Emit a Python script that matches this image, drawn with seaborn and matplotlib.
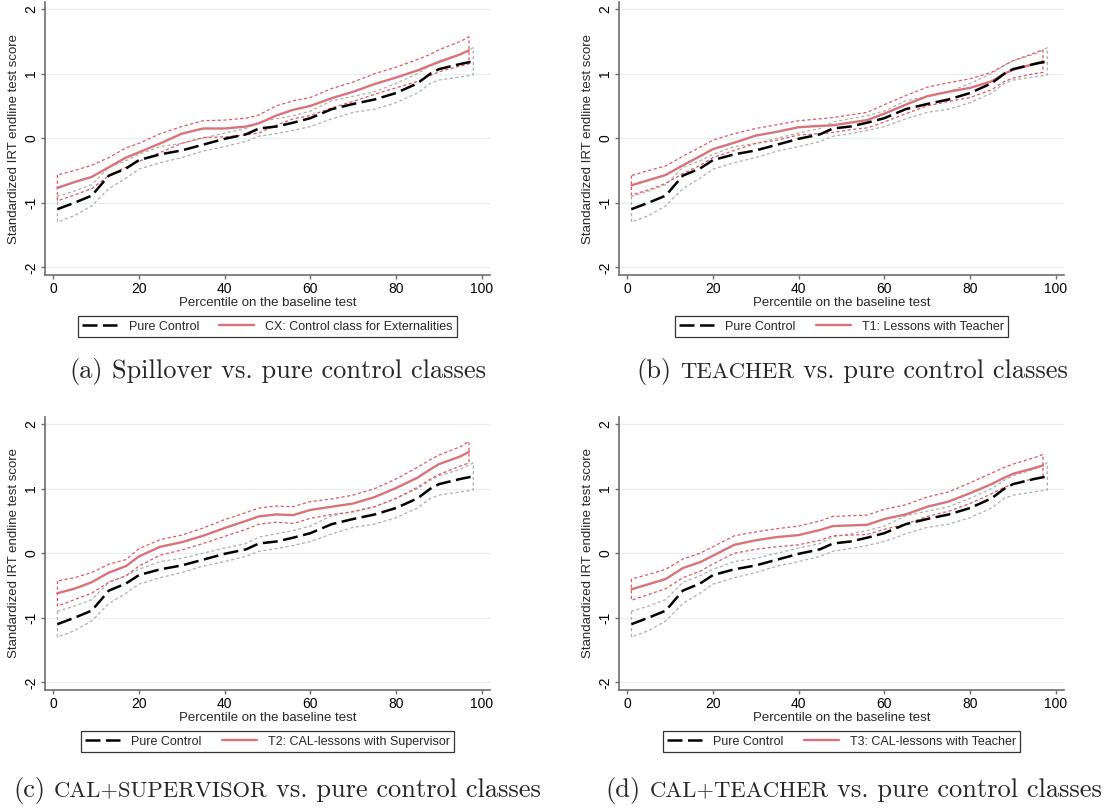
import numpy as np
import pandas as pd
import matplotlib
matplotlib.use("Agg")
import matplotlib.pyplot as plt
import seaborn as sns
from matplotlib.lines import Line2D
from matplotlib.offsetbox import TextArea, HPacker, AnnotationBbox

sns.set_style("white")
plt.rcParams['font.family'] = ['Liberation Sans', 'DejaVu Sans']
plt.rcParams['axes.unicode_minus'] = False

# percentiles on the baseline test
pc_x = [1, 5, 9, 13, 17, 20, 25, 30, 35, 40, 45, 48, 52, 56, 60, 65, 70, 75, 80, 85, 88, 90, 95, 98]
tr_x = [1, 5, 9, 13, 17, 20, 25, 30, 35, 40, 45, 48, 52, 56, 60, 65, 70, 75, 80, 85, 88, 90, 95, 97]

# pure control (same in every panel)
pc_mean = [-1.10, -1.00, -0.89, -0.58, -0.47, -0.34, -0.25, -0.19, -0.10, -0.01, 0.06, 0.15, 0.18, 0.24, 0.31, 0.45, 0.53, 0.60, 0.70, 0.85, 1.00, 1.07, 1.15, 1.19]
pc_lo = [-1.30, -1.20, -1.05, -0.78, -0.62, -0.48, -0.38, -0.30, -0.20, -0.13, -0.05, 0.03, 0.07, 0.12, 0.18, 0.30, 0.40, 0.45, 0.55, 0.70, 0.85, 0.90, 0.95, 0.98]
pc_hi = [-0.90, -0.82, -0.72, -0.45, -0.35, -0.25, -0.13, -0.08, 0.00, 0.08, 0.15, 0.25, 0.30, 0.35, 0.42, 0.58, 0.65, 0.72, 0.85, 1.00, 1.13, 1.20, 1.30, 1.40]

# treatment groups
cx_mean = [-0.77, -0.68, -0.60, -0.45, -0.30, -0.22, -0.08, 0.07, 0.15, 0.15, 0.18, 0.23, 0.35, 0.44, 0.50, 0.62, 0.72, 0.84, 0.94, 1.05, 1.13, 1.18, 1.30, 1.36]
cx_lo = [-0.97, -0.88, -0.78, -0.58, -0.45, -0.36, -0.22, -0.08, 0.01, 0.02, 0.05, 0.08, 0.20, 0.30, 0.35, 0.47, 0.57, 0.68, 0.78, 0.88, 0.97, 1.03, 1.12, 1.15]
cx_hi = [-0.57, -0.50, -0.42, -0.30, -0.15, -0.08, 0.07, 0.18, 0.27, 0.28, 0.31, 0.36, 0.50, 0.58, 0.63, 0.77, 0.87, 1.00, 1.10, 1.22, 1.30, 1.37, 1.50, 1.57]

t1_mean = [-0.73, -0.65, -0.57, -0.42, -0.28, -0.17, -0.07, 0.04, 0.10, 0.17, 0.19, 0.20, 0.24, 0.28, 0.38, 0.52, 0.65, 0.72, 0.78, 0.88, 1.00, 1.06, 1.15, 1.19]
t1_lo = [-0.88, -0.80, -0.70, -0.55, -0.42, -0.30, -0.19, -0.08, -0.03, 0.05, 0.07, 0.09, 0.13, 0.16, 0.25, 0.38, 0.50, 0.57, 0.63, 0.75, 0.88, 0.93, 1.00, 1.02]
t1_hi = [-0.58, -0.50, -0.43, -0.28, -0.14, -0.03, 0.07, 0.15, 0.21, 0.27, 0.30, 0.32, 0.36, 0.40, 0.52, 0.66, 0.79, 0.86, 0.92, 1.02, 1.13, 1.20, 1.32, 1.37]

t2_mean = [-0.62, -0.55, -0.45, -0.30, -0.20, -0.05, 0.10, 0.17, 0.27, 0.39, 0.50, 0.57, 0.60, 0.59, 0.67, 0.72, 0.77, 0.87, 1.01, 1.17, 1.30, 1.38, 1.50, 1.57]
t2_lo = [-0.82, -0.72, -0.62, -0.45, -0.35, -0.20, -0.03, 0.05, 0.15, 0.26, 0.37, 0.45, 0.48, 0.46, 0.54, 0.60, 0.64, 0.72, 0.85, 1.02, 1.15, 1.22, 1.35, 1.40]
t2_hi = [-0.43, -0.38, -0.30, -0.17, -0.10, 0.07, 0.21, 0.28, 0.39, 0.52, 0.63, 0.70, 0.73, 0.72, 0.80, 0.84, 0.90, 1.00, 1.15, 1.33, 1.45, 1.52, 1.65, 1.73]

t3_mean = [-0.56, -0.48, -0.40, -0.23, -0.14, -0.04, 0.13, 0.20, 0.25, 0.28, 0.36, 0.42, 0.43, 0.44, 0.53, 0.60, 0.72, 0.80, 0.93, 1.07, 1.17, 1.23, 1.32, 1.36]
t3_lo = [-0.73, -0.64, -0.55, -0.38, -0.28, -0.17, 0.00, 0.06, 0.10, 0.13, 0.20, 0.27, 0.28, 0.29, 0.37, 0.45, 0.57, 0.65, 0.77, 0.92, 1.02, 1.07, 1.16, 1.18]
t3_hi = [-0.40, -0.33, -0.25, -0.09, 0.00, 0.10, 0.27, 0.33, 0.38, 0.42, 0.50, 0.57, 0.58, 0.59, 0.68, 0.75, 0.87, 0.95, 1.09, 1.24, 1.33, 1.38, 1.48, 1.53]

labels = ["CX: Control class for Externalities", "T1: Lessons with Teacher",
          "T2: CAL-lessons with Supervisor", "T3: CAL-lessons with Teacher"]
captions = [("(a)", None, "Spillover vs. pure control classes"),
            ("(b)", "TEACHER", "vs. pure control classes"),
            ("(c)", "CAL+SUPERVISOR", "vs. pure control classes"),
            ("(d)", "CAL+TEACHER", "vs. pure control classes")]
treat = [(cx_mean, cx_lo, cx_hi), (t1_mean, t1_lo, t1_hi),
         (t2_mean, t2_lo, t2_hi), (t3_mean, t3_lo, t3_hi)]

RED = "#D9737A"
RED_CI = "#E0585E"
GRAY_CI = "#AFAFAF"
GRID = "#E6EFF1"
AXC = "#6E6E6E"
DASH = (6, 2.2)

fig = plt.figure(figsize=(11.06, 8.09), dpi=100)
W, H = 1106, 809
# left, right, top, bottom in pixels
boxes = [(45, 490, 2, 275), (619, 1064, 2, 275),
         (45, 490, 417, 690), (619, 1064, 417, 690)]
cap_pos = [(278, 371), (852, 371), (277, 790), (854, 790)]

for i, (l, r, t, b) in enumerate(boxes):
    ax = fig.add_axes([l / W, 1 - b / H, (r - l) / W, (b - t) / H])
    mean, lo, hi = treat[i]
    df_pc = pd.DataFrame({"x": pc_x, "y": pc_mean})
    df_tr = pd.DataFrame({"x": tr_x, "y": mean})

    for yy in [-2, -1, 0, 1, 2]:
        ax.axhline(yy, color=GRID, lw=1.0, zorder=0)

    ax.fill_between(pc_x, pc_lo, pc_hi, facecolor="none", edgecolor=GRAY_CI,
                    linestyle=(0, (2.5, 2)), lw=0.9, zorder=2)
    ax.fill_between(tr_x, lo, hi, facecolor="none", edgecolor=RED_CI,
                    linestyle=(0, (2.5, 2)), lw=0.9, zorder=2)

    sns.lineplot(data=df_tr, x="x", y="y", ax=ax, color=RED, lw=1.7, zorder=3)
    sns.lineplot(data=df_pc, x="x", y="y", ax=ax, color="black", lw=1.8, zorder=4)
    ax.lines[-1].set_dashes(DASH)

    ax.set_xlim(-1.9, 101.9)
    ax.set_ylim(-2.12, 2.11)
    ax.set_xticks([0, 20, 40, 60, 80, 100])
    ax.set_yticks([-2, -1, 0, 1, 2])
    ax.set_yticklabels(["-2", "-1", "0", "1", "2"])
    ax.tick_params(axis="y", labelrotation=90, pad=2)
    ax.tick_params(axis="x", pad=2)
    ax.tick_params(direction="out", length=3, width=1, color=AXC,
                   labelsize=10, labelcolor="black", left=True, bottom=True)
    for lab in ax.get_yticklabels():
        lab.set_va("center")
    ax.set_xlabel("Percentile on the baseline test", fontsize=9.5, labelpad=1)
    ax.set_ylabel("Standardized IRT endline test score", fontsize=9.5)
    ax.yaxis.set_label_coords(-0.056, 0.5)
    for s in ["top", "right"]:
        ax.spines[s].set_visible(False)
    for s in ["left", "bottom"]:
        ax.spines[s].set_color(AXC)
        ax.spines[s].set_linewidth(1.2)

    handles = [Line2D([], [], color="black", lw=1.8, dashes=DASH),
               Line2D([], [], color=RED, lw=1.7)]
    leg = ax.legend(handles, ["Pure Control", labels[i]], loc="upper center",
                    bbox_to_anchor=(0.5, -0.152), ncol=2, fontsize=9,
                    frameon=True, fancybox=False, edgecolor="black",
                    handlelength=2.8, columnspacing=1.6, borderpad=0.35,
                    handletextpad=0.9, borderaxespad=0)
    leg.get_frame().set_linewidth(0.9)

    pre, sc, post = captions[i]
    parts = [TextArea(pre, textprops=dict(family="cmr10", size=19))]
    if sc:
        parts.append(TextArea(sc, textprops=dict(family="cmr10", size=16.3)))
    parts.append(TextArea(post, textprops=dict(family="cmr10", size=19)))
    pack = HPacker(children=parts, align="baseline", pad=0, sep=6.3)
    cx, cy = cap_pos[i]
    fig.add_artist(AnnotationBbox(pack, (cx / W, 1 - cy / H), xycoords="figure fraction",
                                  frameon=False, box_alignment=(0.5, 0.5)))

fig.savefig("out.png", dpi=100)
